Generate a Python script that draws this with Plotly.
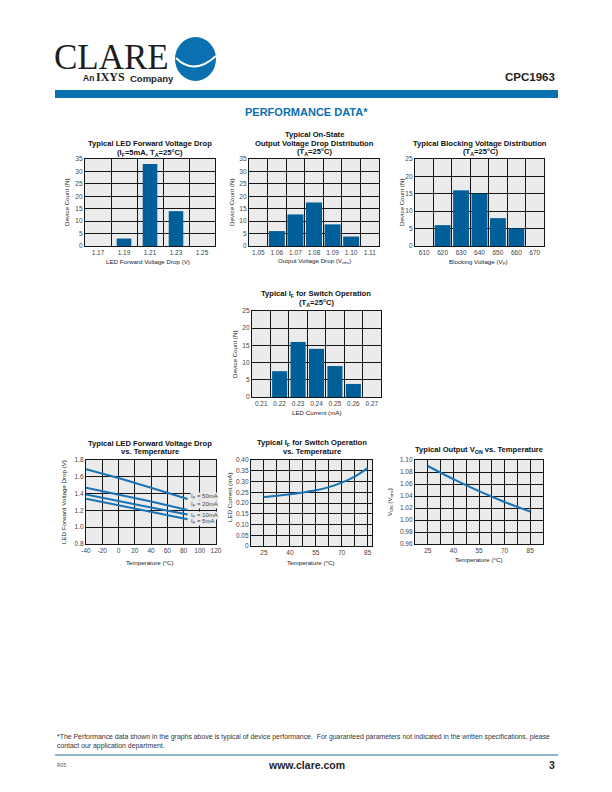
import plotly.graph_objects as go

W, H = 612, 792

# ---------------- data ----------------
led_vf_cats = ["1.17", "1.19", "1.21", "1.23", "1.25"]
led_vf_counts = [0, 3, 33, 14, 0]

von_cats = ["1.05", "1.06", "1.07", "1.08", "1.09", "1.10", "1.11"]
von_counts = [0, 6, 12.7, 17.5, 8.7, 3.8, 0]

vb_cats = ["610", "620", "630", "640", "650", "660", "670"]
vb_counts = [0, 6, 16, 15, 8, 5, 0]

if_cats = ["0.21", "0.22", "0.23", "0.24", "0.25", "0.26", "0.27"]
if_counts = [0, 7.5, 16, 14, 9, 3.8, 0]

vf_temp = [-40, 0, 40, 85]
vf_50ma = [1.69, 1.585, 1.47, 1.335]
vf_20ma = [1.47, 1.39, 1.305, 1.205]
vf_10ma = [1.39, 1.31, 1.235, 1.15]
vf_5ma = [1.34, 1.26, 1.18, 1.095]
vf_series = [vf_50ma, vf_20ma, vf_10ma, vf_5ma]
vf_labels = ["50mA", "20mA", "10mA", "5mA"]
vf_label_y = [1.36, 1.265, 1.145, 1.065]

if_temp = [25, 32.5, 40, 47.5, 55, 62.5, 70, 77.5, 85]
if_ma = [0.228, 0.234, 0.241, 0.249, 0.259, 0.274, 0.295, 0.323, 0.362]

von_temp = [25, 40, 55, 70, 85]
von_v = [1.090, 1.068, 1.048, 1.030, 1.014]

temp_ticks = [25, 40, 55, 70, 85]
vf_xticks = [-40, -20, 0, 20, 40, 60, 80, 100, 120]
vf_xticktext = ["-40", "-20", "0", "20", "40", "60", "80", "100", "120"]
if_yticks = [0, 0.05, 0.10, 0.15, 0.20, 0.25, 0.30, 0.35, 0.40]
if_yticktext = ["0", "0.05", "0.10", "0.15", "0.20", "0.25", "0.30", "0.35", "0.40"]

# ---------------- style ----------------
BAR = "#005e98"
LINE = "#1673b6"
BLUE = "#0a70b0"
PLOTBG = "#ebebeb"
GRID = "#151515"
FONT = "Liberation Sans, Arial, sans-serif"
SERIF = "Liberation Serif, Times New Roman, serif"


def xd(a, b):
    return [a / W, b / W]


def yd(top, bot):
    return [1 - bot / H, 1 - top / H]


def px(x):
    return x / W


def py(y):
    return 1 - y / H


base_axis = dict(showgrid=True, gridcolor=GRID, gridwidth=1, showline=True,
                 linecolor=GRID, linewidth=1.2, mirror=True, ticks="",
                 zeroline=False, fixedrange=True, automargin=False,
                 tickfont=dict(size=6.5, color="#444", family=FONT))

fig = go.Figure()
layout = dict(width=W, height=H, margin=dict(l=0, r=0, t=0, b=0, pad=0),
              paper_bgcolor="white", plot_bgcolor=PLOTBG, showlegend=False,
              font=dict(family=FONT, color="#222"))

# boxes: (left, right, top, bottom) in pixels
boxes = {
    1: (85, 215, 159, 246),
    2: (249, 379, 159, 246),
    3: (415, 544, 159, 246),
    4: (252, 381, 311, 397),
    5: (86, 216, 460, 544),
    6: (251, 372, 460, 546),
    7: (415, 543, 460, 544),
}

bar_sets = {
    1: (led_vf_cats, led_vf_counts, 35, 0.56),
    2: (von_cats, von_counts, 35, 0.86),
    3: (vb_cats, vb_counts, 25, 0.86),
    4: (if_cats, if_counts, 25, 0.82),
}

for i, (cats, vals, ymax, w) in bar_sets.items():
    l, r, t, b = boxes[i]
    xa = dict(base_axis, domain=xd(l, r), anchor=f"y{i}", type="category",
              categoryorder="array", categoryarray=cats, tickson="boundaries",
              range=[-0.5, len(cats) - 0.5], tickangle=0)
    ya = dict(base_axis, domain=yd(t, b), anchor=f"x{i}", range=[0, ymax], dtick=5)
    layout[f"xaxis{i}"] = xa
    layout[f"yaxis{i}"] = ya
    fig.add_trace(go.Bar(x=cats, y=vals, width=w, marker=dict(color=BAR, line=dict(width=0)),
                         xaxis=f"x{i}", yaxis=f"y{i}"))

# chart 5
l, r, t, b = boxes[5]
layout["xaxis5"] = dict(base_axis, domain=xd(l, r), anchor="y5", range=[-40, 120],
                        tickvals=vf_xticks, ticktext=vf_xticktext, tickangle=0)
layout["yaxis5"] = dict(base_axis, domain=yd(t, b), anchor="x5", range=[0.8, 1.8], dtick=0.2,
                        tickformat=".1f")
for s in vf_series:
    fig.add_trace(go.Scatter(x=vf_temp, y=s, mode="lines", line=dict(color=LINE, width=2),
                             xaxis="x5", yaxis="y5"))

# chart 6
l, r, t, b = boxes[6]
layout["xaxis6"] = dict(base_axis, domain=xd(l, r), anchor="y6", range=[17.5, 87.5],
                        tickvals=temp_ticks, tickangle=0,
                        minor=dict(tick0=17.5, dtick=7.5, showgrid=True, gridcolor=GRID, gridwidth=1))
layout["yaxis6"] = dict(base_axis, domain=yd(t, b), anchor="x6", range=[0, 0.40],
                        tickvals=if_yticks, ticktext=if_yticktext)
fig.add_trace(go.Scatter(x=if_temp, y=if_ma, mode="lines", line=dict(color=LINE, width=2, shape="spline"),
                         xaxis="x6", yaxis="y6"))

# chart 7
l, r, t, b = boxes[7]
layout["xaxis7"] = dict(base_axis, domain=xd(l, r), anchor="y7", range=[17.5, 92.5],
                        tickvals=temp_ticks, tickangle=0,
                        minor=dict(tick0=17.5, dtick=7.5, showgrid=True, gridcolor=GRID, gridwidth=1))
layout["yaxis7"] = dict(base_axis, domain=yd(t, b), anchor="x7", range=[0.96, 1.10], dtick=0.02,
                        tickformat=".2f")
fig.add_trace(go.Scatter(x=von_temp, y=von_v, mode="lines", line=dict(color=LINE, width=2, shape="spline"),
                         xaxis="x7", yaxis="y7"))

ann = []


def text(x, y, s, size=7, color="#222", bold=False, xanchor="center", angle=0, family=FONT,
         align="center", pad=1, height=None):
    if bold:
        s = f"<b>{s}</b>"
    a = dict(x=px(x), y=py(y), xref="paper", yref="paper", text=s, showarrow=False,
             xanchor=xanchor, yanchor="middle", textangle=angle, align=align, borderpad=pad,
             font=dict(size=size, color=color, family=family))
    if height is not None:
        a["height"] = height
        a["valign"] = "middle"
    ann.append(a)


TS = 7.6
# chart titles
text(150, 143, "Typical LED Forward Voltage Drop", TS, "#111", True)
text(150, 152.5, "(I<sub>F</sub>=5mA, T<sub>A</sub>=25°C)", TS, "#111", True)
text(314, 135, "Typical On-State", TS, "#111", True)
text(314, 143, "Output Voltage Drop Distribution", TS, "#111", True)
text(314, 152, "(T<sub>A</sub>=25°C)", TS, "#111", True)
text(480, 143, "Typical Blocking Voltage Distribution", TS, "#111", True)
text(480, 152, "(T<sub>A</sub>=25°C)", TS, "#111", True)
text(316, 294, "Typical I<sub>F</sub> for Switch Operation", TS, "#111", True)
text(316, 302.5, "(T<sub>A</sub>=25°C)", TS, "#111", True)
text(150, 443, "Typical LED Forward Voltage Drop", TS, "#111", True)
text(150, 451, "vs. Temperature", TS, "#111", True)
text(312, 443, "Typical I<sub>F</sub> for Switch Operation", TS, "#111", True)
text(312, 451, "vs. Temperature", TS, "#111", True)
text(479, 450, "Typical Output V<sub>ON</sub> vs. Temperature", TS, "#111", True)

AS = 6.2
# x titles
text(148, 261, "LED Forward Voltage Drop (V)", AS)
text(315, 261, "Output Voltage Drop (V<sub>rms</sub>)", AS)
text(478, 262, "Blocking Voltage (V<sub>P</sub>)", AS)
text(317, 412, "LED Current (mA)", AS)
text(150, 562, "Temperature (°C)", AS)
text(311, 562, "Temperature (°C)", AS)
text(479, 559, "Temperature (°C)", AS)
# y titles
text(67, 203, "Device Count (N)", AS, angle=-90)
text(232, 203, "Device Count (N)", AS, angle=-90)
text(402, 203, "Device Count (N)", AS, angle=-90)
text(234, 354, "Device Count (N)", AS, angle=-90)
text(63, 502, "LED Forward Voltage Drop (V)", AS, angle=-90)
text(230, 497, "LED Current (mA)", AS, angle=-90)
text(390, 502, "V<sub>ON</sub> (V<sub>rms</sub>)", AS, angle=-90)

# series labels in chart 5
for lab, yv in zip(vf_labels, vf_label_y):
    ann.append(dict(x=88, y=yv, xref="x5", yref="y5", text=f"I<sub>F</sub> = {lab}", showarrow=False,
                    xanchor="left", yanchor="middle", bgcolor=PLOTBG, borderpad=0,
                    font=dict(size=6, color="#444", family=FONT)))

# header
text(53, 57, "CLARE", 35, "#1e1e1e", False, "left", family=SERIF, pad=0, height=30)
text(82, 77.5, "An", 8.5, "#1e1e1e", True, "left", pad=0)
text(95, 77, "IXYS", 12, "#1e1e1e", True, "left", family=SERIF, pad=0)
text(129, 78, "Company", 9.5, "#1e1e1e", True, "left", pad=0)
text(557, 77, "CPC1963", 11.5, "#1e1e1e", True, "right")
text(306, 112, "PERFORMANCE DATA*", 11, BLUE, True)

# footer
text(55, 741.5, "*The Performance data shown in the graphs above is typical of device performance.  "
     "For guaranteed parameters not indicated in the written specifications, please<br>"
     "contact our application department.", 6.9, "#333", False, "left", align="left")
text(55, 765, "R05", 5, "#555", False, "left")
text(306, 765, "www.clare.com", 10.5, "#1e1e1e", True)
text(557, 765, "3", 10.5, "#1e1e1e", True, "right")

shapes = [
    dict(type="rect", xref="paper", yref="paper", x0=px(55), x1=px(558), y0=py(98), y1=py(90),
         fillcolor=BLUE, line=dict(width=0), layer="above"),
    dict(type="line", xref="paper", yref="paper", x0=px(55), x1=px(558), y0=py(755), y1=py(755),
         line=dict(color="#1d6b9f", width=1)),
    dict(type="circle", xref="paper", yref="paper", x0=px(175), x1=px(216), y0=py(81), y1=py(37),
         fillcolor=BLUE, line=dict(width=0)),
    dict(type="path", xref="paper", yref="paper",
         path=f"M {px(176)} {py(58)} Q {px(194)} {py(76)} {px(216)} {py(56)}",
         line=dict(color="white", width=2)),
]

layout["annotations"] = ann
layout["shapes"] = shapes
fig.update_layout(**layout)
fig.write_html("out.html", config={"displayModeBar": False},
               post_script="document.body.style.margin='0px';document.body.style.padding='0px';")
